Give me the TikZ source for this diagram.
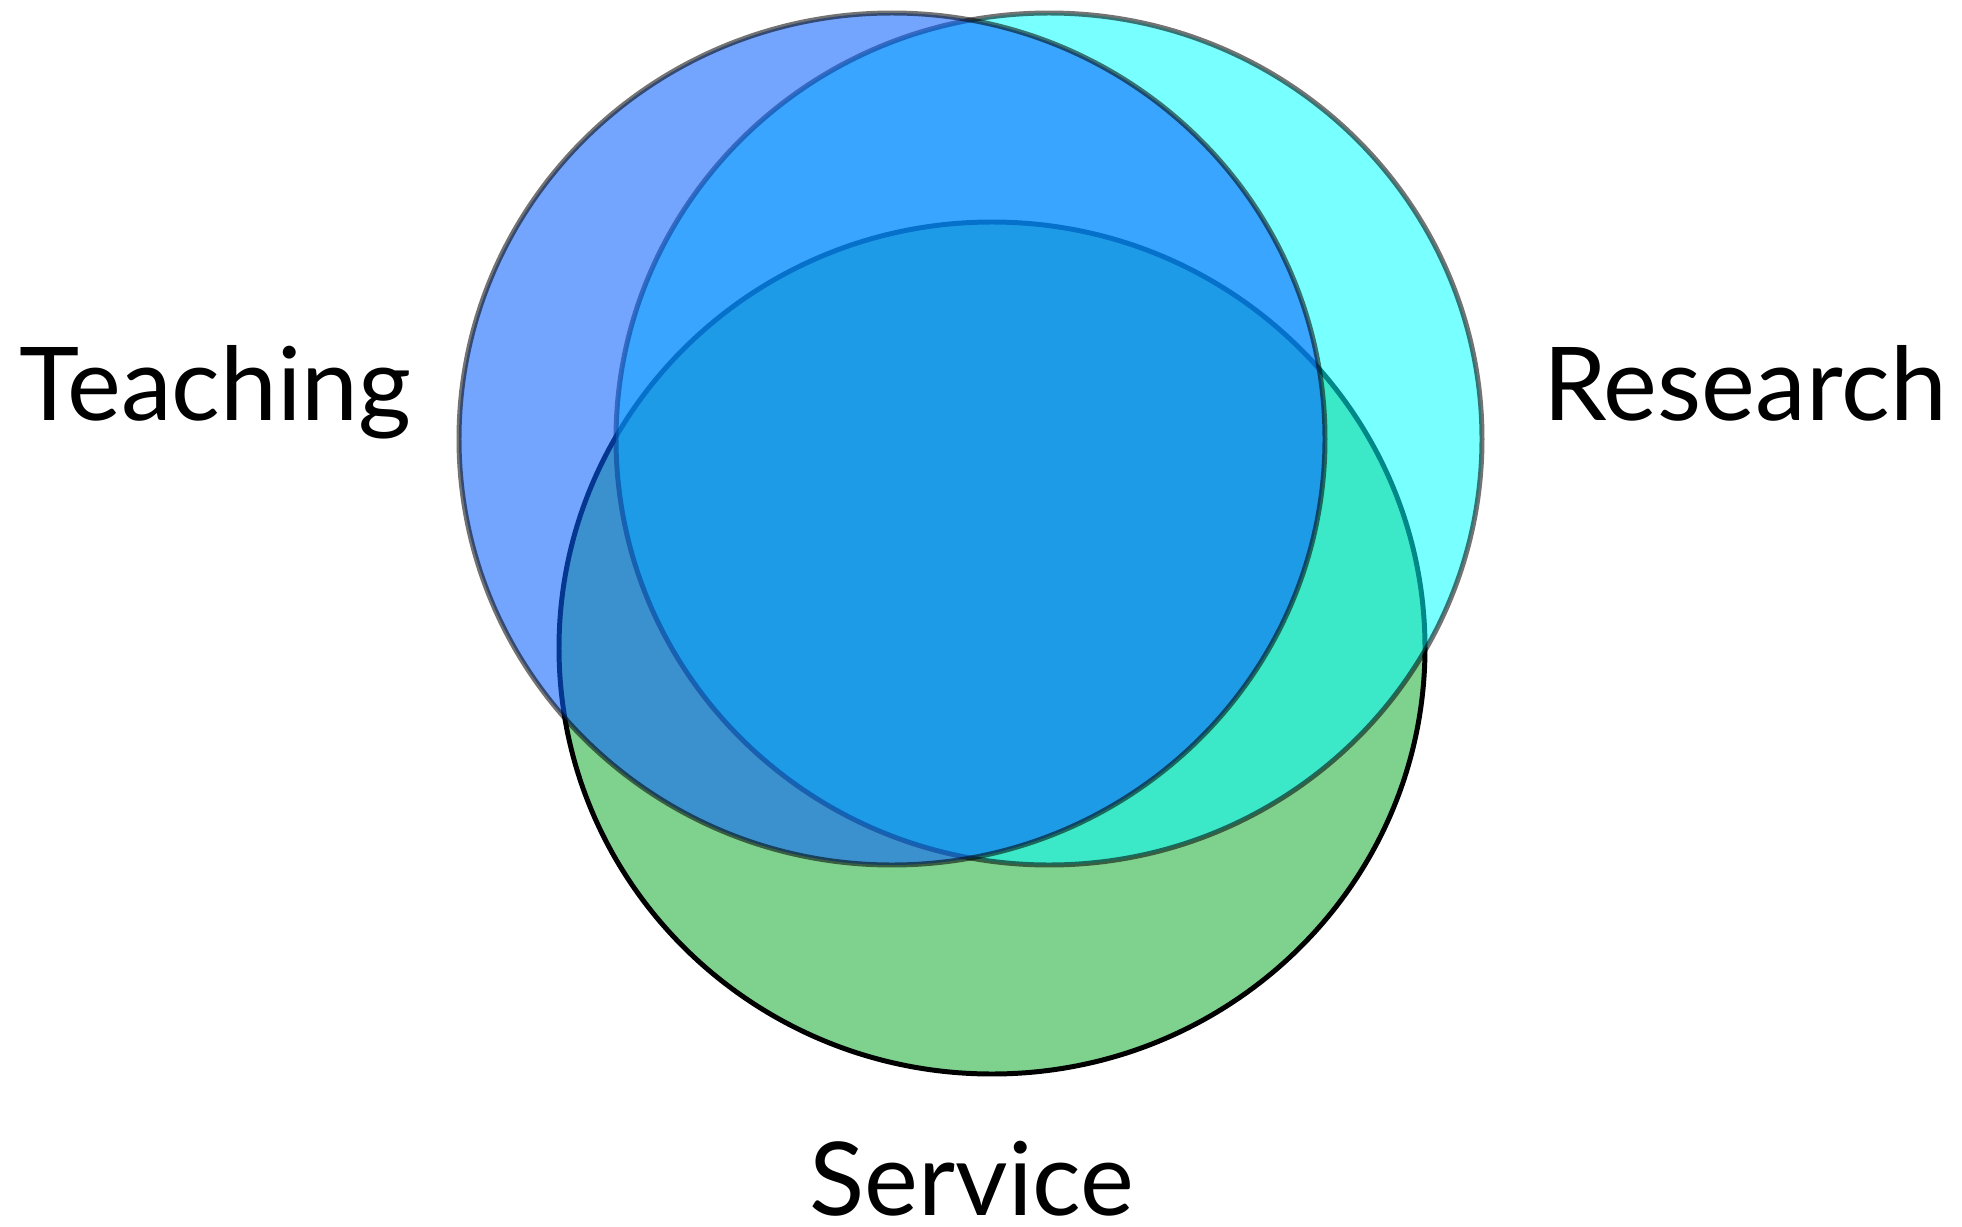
\documentclass[tikz,border=0pt]{standalone}
\usepackage{fontspec}
\setmainfont{Lato}
\usepackage{tikz}
\usetikzlibrary{positioning}

\definecolor{teachblue}{RGB}{9,97,255}
\definecolor{researchcyan}{RGB}{0,255,255}
\definecolor{servicegreen}{RGB}{127,210,142}

\begin{document}
\begin{tikzpicture}[
    x=0.02cm,
    y=-0.02cm,
    venn/.style={
      line width=5pt*0.5669,
      draw=black
      },
    teachset/.style={
      venn,
      fill=teachblue,
      fill opacity=0.57,
      draw opacity=0.55
      },
    researchset/.style={
      venn,
      fill=researchcyan,
      fill opacity=0.53,
      draw opacity=0.55
      },
    serviceset/.style={
      venn,
      fill=servicegreen
      },
    label/.style={
      inner sep=0pt,
      font=\fontsize{58pt}{58pt}\selectfont
      }
    ]
    \useasboundingbox (0,0) rectangle (1962,1227);
    \coordinate (teach) at (892,439);
    \coordinate (research) at (1049,439);
    \coordinate (service) at (992,648);
    % bottom to top: service, research, teaching
    \draw[serviceset] (service) ellipse [x radius=433, y radius=426];
    \draw[researchset] (research) ellipse [x radius=433, y radius=426];
    \draw[teachset] (teach) ellipse [x radius=433, y radius=426];
    \node[label, anchor=base west] (teachlabel) at (19,420) {Teaching};
    \node[label, anchor=base east] (researchlabel) at (1947,420) {Research};
    \node[label, anchor=base] (servicelabel) at (972,1215) {Service};
\end{tikzpicture}
\end{document}
